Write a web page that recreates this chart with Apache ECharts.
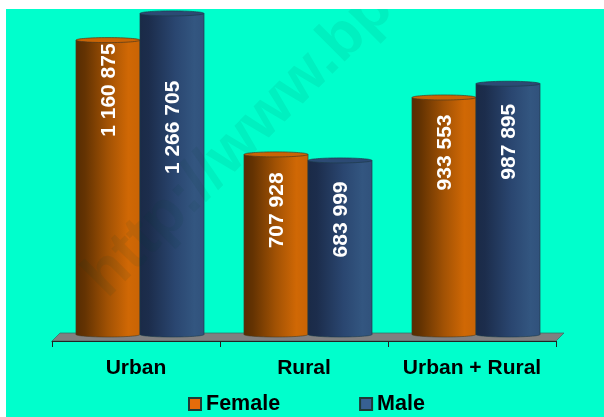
<!DOCTYPE html>
<html><head><meta charset="utf-8">
<style>html,body{margin:0;padding:0;background:#fff}#c{width:604px;height:417px}</style>
<script src="https://cdn.jsdelivr.net/npm/echarts@6/dist/echarts.min.js"></script>
</head><body><div id="c"></div>
<script>
const categories = ['Urban', 'Rural', 'Urban + Rural'];
const female = [1160875, 707928, 933553];
const male = [1266705, 683999, 987895];
const femaleLabelDrop = [50, 56, 55];
const maleLabelDrop = [114, 59, 58];

const FAMILY = '"Liberation Sans", Arial, sans-serif';
const chart = echarts.init(document.getElementById('c'), null, {renderer: 'canvas'});

function grad(stops) {
  return new echarts.graphic.LinearGradient(0, 0, 1, 0,
    stops.map(s => ({offset: s[0], color: s[1]})));
}
const femaleGrad = [[0,'#562c02'],[0.14,'#643302'],[0.5,'#a25204'],[0.82,'#d06805'],[1,'#c96405']];
const maleGrad = [[0,'#1a2a47'],[0.14,'#1c2d4c'],[0.55,'#2a4670'],[0.85,'#335680'],[1,'#31527c']];

function cylinder(shift, stops, topFill, drops, edge) {
  return function (params, api) {
    const band = api.size([1, 0])[0];
    const w = band * 0.381;
    const c = api.coord([api.value(0), api.value(1)]);
    const zero = api.coord([api.value(0), 0]);
    const cx = c[0] + band * shift;
    const x = cx - w / 2;
    const baseY = zero[1] + 1.5;
    const topY = c[1];
    const ry = 2.5;
    const v = api.value(1);
    const text = String(v).replace(/\B(?=(\d{3})+$)/g, ' ');
    const fill = grad(stops);
    return {type: 'group', children: [
      {type: 'ellipse', shape: {cx: cx, cy: baseY, rx: w / 2, ry: ry},
       style: {fill: fill, stroke: edge, lineWidth: 0.6}},
      {type: 'rect', shape: {x: x, y: topY, width: w, height: baseY - topY},
       style: {fill: fill, stroke: null}},
      {type: 'line', shape: {x1: x, y1: topY, x2: x, y2: baseY}, style: {stroke: edge, lineWidth: 0.7}},
      {type: 'line', shape: {x1: x + w, y1: topY, x2: x + w, y2: baseY}, style: {stroke: edge, lineWidth: 0.7}},
      {type: 'ellipse', shape: {cx: cx, cy: topY, rx: w / 2, ry: ry},
       style: {fill: topFill, stroke: edge, lineWidth: 0.7}},
      {type: 'text', x: cx + 1, y: topY + drops[params.dataIndex], rotation: Math.PI / 2,
       style: {text: text, fill: '#fff', font: 'bold 21px ' + FAMILY, textAlign: 'center', textVerticalAlign: 'middle'}}
    ]};
  };
}

chart.setOption({
  animation: false,
  backgroundColor: '#fff',
  grid: {left: 52, width: 504, top: 5, height: 328, containLabel: false},
  xAxis: {
    type: 'category', data: categories, offset: 8,
    axisLine: {show: true, onZero: false, lineStyle: {color: '#222', width: 1}},
    axisTick: {show: true, length: 6, alignWithLabel: false, lineStyle: {color: '#222'}},
    axisLabel: {margin: 17, color: '#000', fontFamily: FAMILY, fontWeight: 'bold', fontSize: 21, interval: 0},
    splitLine: {show: false}
  },
  yAxis: {type: 'value', min: 0, max: 1300000, show: false, splitLine: {show: false}},
  legend: {
    left: 188, top: 393, padding: 0, itemWidth: 12, itemHeight: 12, itemGap: 79, icon: 'rect',
    textStyle: {color: '#000', fontFamily: FAMILY, fontWeight: 'bold', fontSize: 21.5},
    data: ['Female', 'Male']
  },
  graphic: [
    {type: 'rect', z: -10, silent: true, shape: {x: 6, y: 9, width: 598, height: 408}, style: {fill: '#00ffcc'}},
    {type: 'polygon', z: 0, silent: true, shape: {points: [[52, 341], [556, 341], [564, 333], [60, 333]]},
     style: {fill: '#808080', stroke: '#2f6f63', lineWidth: 0.7}},
    {type: 'text', z: 50, silent: true, x: 117, y: 309, rotation: Math.PI / 4,
     style: {text: 'http://www.bp', font: 'bold 62px ' + FAMILY,
             fill: 'rgba(0,70,50,0.08)', textAlign: 'left', textVerticalAlign: 'bottom'}},
    {type: 'rect', z: 60, silent: true, shape: {x: 0, y: 0, width: 604, height: 9}, style: {fill: '#fff'}},
    {type: 'rect', z: 60, silent: true, shape: {x: 0, y: 0, width: 6, height: 417}, style: {fill: '#fff'}}
  ],
  series: [
    {name: 'Female', type: 'custom', clip: false, z: 5, coordinateSystem: 'cartesian2d',
     itemStyle: {color: '#e46c0a', borderColor: '#1f3a36', borderWidth: 1},
     encode: {x: 0, y: 1},
     data: categories.map((c, i) => [i, female[i]]),
     renderItem: cylinder(-28 / 168, femaleGrad, '#c96405', femaleLabelDrop, '#4a3a1e')},
    {name: 'Male', type: 'custom', clip: false, z: 6, coordinateSystem: 'cartesian2d',
     itemStyle: {color: '#376092', borderColor: '#1f3a36', borderWidth: 1},
     encode: {x: 0, y: 1},
     data: categories.map((c, i) => [i, male[i]]),
     renderItem: cylinder(36 / 168, maleGrad, '#2c4a74', maleLabelDrop, '#1c3b4a')}
  ]
});
</script></body></html>
